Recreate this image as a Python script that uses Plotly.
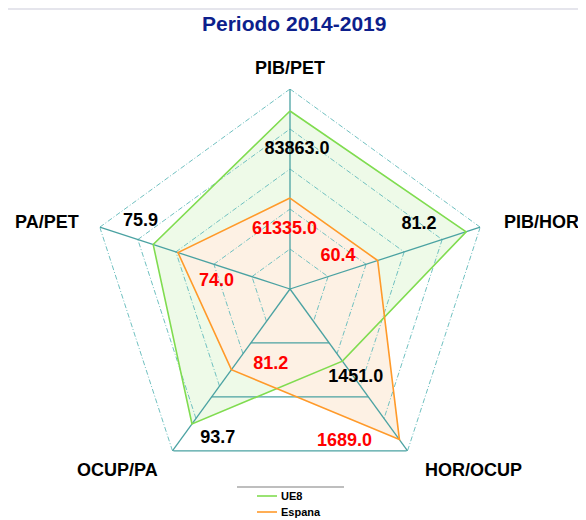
import math
import plotly.graph_objects as go

# ---------------- data ----------------
axis_names = ["PIB/PET", "PIB/HOR", "HOR/OCUP", "OCUP/PA", "PA/PET"]
ue8 = [83863.0, 81.2, 1451.0, 93.7, 75.9]
espana = [61335.0, 60.4, 1689.0, 81.2, 74.0]
axis_min = [37800.0, 39.8, 1232.0, 62.6, 65.4]
axis_max = [89560.0, 84.5, 1723.0, 99.9, 80.0]
series_names = ["UE8", "Espana"]
title_text = "Periodo 2014-2019"

# ---------------- styling / placement ----------------
angles = [0, 72, 144, 216, 288]
dashed_levels = [0.2, 0.4, 0.6, 0.8, 1.0]
solid_levels = [1 / 3, 2 / 3, 1.0]
ue8_lab_r = [0.70, 0.72, 0.55, 0.83, 0.82]
ue8_lab_t = [2.9, 63.6, 143.3, 205.8, 294.2]
esp_lab_r = [0.30, 0.29, 0.81, 0.39, 0.37]
esp_lab_t = [354.8, 56.0, 160.3, 194.2, 276.2]
ax_lab_r = [1.105, 1.30, 1.29, 1.25, 1.26]
ax_lab_t = [0, 75.1, 134.7, 223.5, 285.4]

GREEN = "#80dc50"
ORANGE = "#ff9a2a"
GREEN_FILL = "#eefae8"
ORANGE_FILL = "#fdf1e4"
GRID_DASH = "#70c0c0"
GRID_SOLID = "#4aa2a2"
FONT = "Liberation Sans, Arial, sans-serif"

W, H = 586, 520
OFF = 8  # page body margin offset
CX, CY, R = 290 - OFF, 289 - OFF, 200


def norm(vals):
    return [(v - lo) / (hi - lo) for v, lo, hi in zip(vals, axis_min, axis_max)]


ue8_n = norm(ue8)
esp_n = norm(espana)

fig = go.Figure()

# fills
for vals, fc in [(ue8_n, GREEN_FILL), (esp_n, ORANGE_FILL)]:
    fig.add_trace(go.Scatterpolar(
        r=vals + [vals[0]], theta=angles + [angles[0]], mode="lines",
        fill="toself", fillcolor=fc, line=dict(width=0, color=fc),
        hoverinfo="skip", showlegend=False))

# dashed grid (all edges except bottom one)
n = len(angles)
for L in dashed_levels:
    rr, tt = [], []
    for i in range(n):
        j = (i + 1) % n
        if i == 2:
            continue
        rr += [L, L, None]
        tt += [angles[i], angles[j], None]
    fig.add_trace(go.Scatterpolar(
        r=rr, theta=tt, mode="lines", connectgaps=False,
        line=dict(color=GRID_DASH, width=1, dash="5px,2px,1px,2px"),
        hoverinfo="skip", showlegend=False))

# solid bottom grid segments
for L in solid_levels:
    fig.add_trace(go.Scatterpolar(
        r=[L, L], theta=[angles[2], angles[3]], mode="lines",
        line=dict(color=GRID_SOLID, width=1.2),
        hoverinfo="skip", showlegend=False))

# spokes
for a in angles:
    fig.add_trace(go.Scatterpolar(
        r=[0, 1], theta=[a, a], mode="lines",
        line=dict(color=GRID_SOLID, width=1.3),
        hoverinfo="skip", showlegend=False))

# data lines
for vals, col, nm in [(ue8_n, GREEN, series_names[0]), (esp_n, ORANGE, series_names[1])]:
    fig.add_trace(go.Scatterpolar(
        r=vals + [vals[0]], theta=angles + [angles[0]], mode="lines",
        line=dict(color=col, width=1.6), name=nm, showlegend=False))

# value labels
fig.add_trace(go.Scatterpolar(
    r=ue8_lab_r, theta=ue8_lab_t, mode="text",
    text=[f"{v:.1f}" for v in ue8], textposition="middle center",
    textfont=dict(family=FONT, size=18, color="black", weight="bold"),
    cliponaxis=False, hoverinfo="skip", showlegend=False))
fig.add_trace(go.Scatterpolar(
    r=esp_lab_r, theta=esp_lab_t, mode="text",
    text=[f"{v:.1f}" for v in espana], textposition="middle center",
    textfont=dict(family=FONT, size=18, color="#ff0000", weight="bold"),
    cliponaxis=False, hoverinfo="skip", showlegend=False))

fig.update_layout(
    width=W, height=H,
    margin=dict(l=0, r=0, t=0, b=0),
    paper_bgcolor="white",
    polar=dict(
        domain=dict(x=[(CX - R) / W, (CX + R) / W],
                    y=[(H - CY - R) / H, (H - CY + R) / H]),
        bgcolor="rgba(0,0,0,0)",
        radialaxis=dict(visible=False, range=[0, 1]),
        angularaxis=dict(visible=False, rotation=90, direction="clockwise"),
    ),
    showlegend=False,
)


def px(x):
    return (x - OFF) / W


def py(y):
    return 1 - (y - OFF) / H


shapes = [
    dict(type="line", xref="paper", yref="paper", x0=0, x1=1, y0=0.998, y1=0.998,
         line=dict(color="#dcdce6", width=1.5)),
    dict(type="line", xref="paper", yref="paper", x0=px(237), x1=px(344), y0=py(487), y1=py(487),
         line=dict(color="#a8a8a8", width=1.5)),
    dict(type="line", xref="paper", yref="paper", x0=px(257), x1=px(277), y0=py(496), y1=py(496),
         line=dict(color=GREEN, width=1.6)),
    dict(type="line", xref="paper", yref="paper", x0=px(257), x1=px(277), y0=py(512), y1=py(512),
         line=dict(color=ORANGE, width=1.6)),
]
annotations = [
    dict(text=title_text, xref="paper", yref="paper", x=px(294), y=py(23),
         xanchor="center", yanchor="middle", showarrow=False,
         font=dict(family=FONT, size=21, color="#0d1f8c", weight="bold")),
    dict(text=series_names[0], xref="paper", yref="paper", x=px(279), y=py(496),
         xanchor="left", yanchor="middle", showarrow=False,
         font=dict(family=FONT, size=11, color="black", weight="bold")),
    dict(text=series_names[1], xref="paper", yref="paper", x=px(279), y=py(512),
         xanchor="left", yanchor="middle", showarrow=False,
         font=dict(family=FONT, size=11, color="black", weight="bold")),
]
# axis name labels placed around the radar (polar -> paper)
for name, r, t in zip(axis_names, ax_lab_r, ax_lab_t):
    xx = CX + r * R * math.sin(math.radians(t))
    yy = CY - r * R * math.cos(math.radians(t))
    annotations.append(dict(
        text=name, xref="paper", yref="paper", x=xx / W, y=1 - yy / H,
        xanchor="center", yanchor="middle", showarrow=False,
        font=dict(family=FONT, size=18, color="black", weight="bold")))

fig.update_layout(shapes=shapes, annotations=annotations)

fig.write_html("out.html")
